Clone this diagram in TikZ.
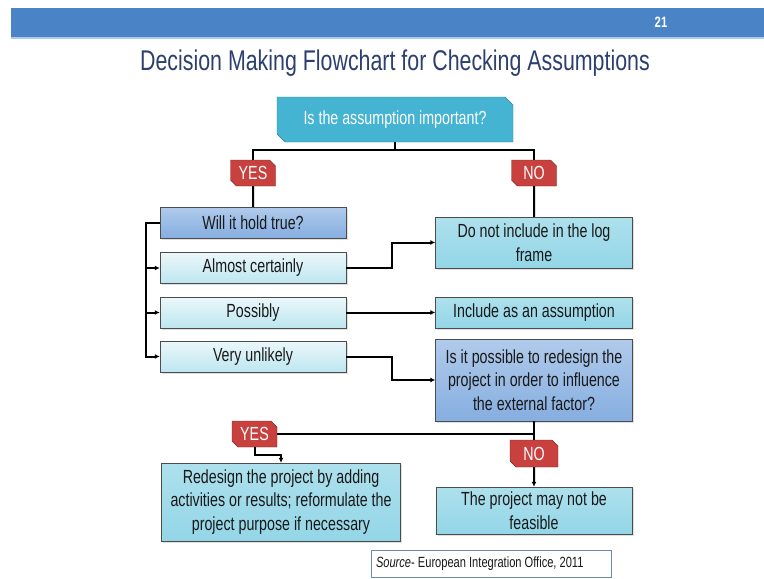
\documentclass[tikz,border=0pt]{standalone}
\usepackage{fontspec}
\setmainfont{Liberation Sans}[FakeStretch=0.75]
\usepackage{xcolor}
\usetikzlibrary{shapes.misc, arrows.meta, positioning, calc, shadows}
\definecolor{bannerblue}{HTML}{4A84C7}
\definecolor{titlenavy}{HTML}{2C3F6E}
\definecolor{tealtop}{HTML}{45B4D2}
\definecolor{labelred}{HTML}{C8413F}
\definecolor{skyblue}{HTML}{86AEE0}
\definecolor{paleblue}{HTML}{BDE6F0}
\definecolor{midcyan}{HTML}{93D6E7}

\begin{document}
\begin{tikzpicture}[
  x=1pt, y=-1pt,
  every node/.style={font=\fontsize{19}{23.5}\selectfont, text=black!90},
  question/.style={chamfered rectangle, chamfered rectangle corners={north east, south west}, chamfered rectangle xsep=4pt, chamfered rectangle ysep=4pt, draw=tealtop!70!black, fill=tealtop, text=white, inner sep=0pt},
  answer/.style={chamfered rectangle, chamfered rectangle corners={north east, south west}, chamfered rectangle xsep=3pt, chamfered rectangle ysep=3pt, draw=labelred!60!black, fill=labelred, text=white, inner sep=0pt, minimum width=45pt, minimum height=26pt},
  choice/.style={rectangle, draw=black!70, top color=paleblue!30, bottom color=paleblue, inner sep=0pt, minimum width=186pt, minimum height=31pt, drop shadow={shadow xshift=1.5pt, shadow yshift=-1.5pt, opacity=0.25}},
  query/.style={rectangle, draw=black!70, top color=skyblue!65, bottom color=skyblue, align=center, inner sep=0pt, drop shadow={shadow xshift=1.5pt, shadow yshift=-1.5pt, opacity=0.25}},
  outcome/.style={rectangle, draw=black!70, top color=midcyan!75, bottom color=midcyan, align=center, inner sep=0pt, minimum width=197pt, drop shadow={shadow xshift=1.5pt, shadow yshift=-1.5pt, opacity=0.25}},
  conn/.style={draw=black, line width=2pt},
  arrow/.style={conn, -{Latex[length=5pt, width=5pt]}}
]
  \useasboundingbox (0,0) rectangle (764,579);

  % Banner and title
  \fill[bannerblue] (11,8) rectangle (764,37);
  \fill[bannerblue!45] (11,37) rectangle (764,39);
  \node[font=\fontsize{15}{17}\selectfont\bfseries, text=white] (pagenum) at (661,22) {21};
  \node[font=\fontsize{28.5}{32}\selectfont, text=titlenavy] (title) at (395,63) {Decision Making Flowchart for Checking Assumptions};

  % Questions
  \node[question, minimum width=236pt, minimum height=45pt] (important) at (395,119.5) {Is the assumption important?};
  \node[query, minimum width=186pt, minimum height=31pt] (holdtrue) at (253,222.5) {Will it hold true?};
  \node[query, minimum width=197pt, minimum height=82pt] (redesignq) at (534,380) {Is it possible to redesign the\\project in order to influence\\the external factor?};

  % Yes / No labels
  \node[answer] (yes1) at (253,173) {YES};
  \node[answer] (no1) at (534,173) {NO};
  \node[answer] (yes2) at (254.5,434) {YES};
  \node[answer, minimum width=48pt, minimum height=27pt] (no2) at (534,453.5) {NO};

  % Choices
  \node[choice] (almost) at (253,268) {Almost certainly};
  \node[choice] (possibly) at (253,312.5) {Possibly};
  \node[choice] (unlikely) at (253,356.5) {Very unlikely};

  % Outcomes
  \node[outcome, minimum height=51pt] (notinclude) at (534,242.5) {Do not include in the log\\frame};
  \node[outcome, minimum height=31pt] (include) at (534,312.5) {Include as an assumption};
  \node[outcome, minimum width=239pt, minimum height=78pt] (redesign) at (281,502) {Redesign the project by adding\\activities or results; reformulate the\\project purpose if necessary};
  \node[outcome, minimum width=196pt, minimum height=47pt] (feasible) at (534,510.5) {The project may not be\\feasible};

  % Source
  \node[draw=skyblue!80!black, line width=0.8pt, fill=white, text width=230pt, align=flush left, minimum height=27pt, inner xsep=5pt, inner ysep=0pt, font=\fontsize{14.8}{17}\selectfont] (source) at (491,563.5) {\textit{Source}- European Integration Office, 2011};

  % Connectors
  \draw[conn] (important.south) -- ++(0,8) -| (yes1.north);
  \draw[conn] (important.south) -- ++(0,8) -| (no1.north);
  \draw[conn] (yes1) -- (holdtrue);
  \draw[conn] (no1) -- (notinclude);
  \draw[arrow] (holdtrue.west) -- ++(-14,0) |- (almost.west);
  \draw[arrow] (holdtrue.west) -- ++(-14,0) |- (possibly.west);
  \draw[arrow] (holdtrue.west) -- ++(-14,0) |- (unlikely.west);
  \draw[arrow] (almost.east) -- ++(46,0) |- (notinclude.west);
  \draw[arrow] (possibly) -- (include);
  \draw[arrow] (unlikely.east) -- ++(46,0) |- (redesignq.west);
  \draw[conn] (redesignq.south) -- (no2.north);
  \draw[conn] (redesignq.south |- yes2.east) -- (yes2.east);
  \draw[arrow] (yes2.south) -- ++(0,8) -| (redesign.north);
  \draw[arrow] (no2) -- (feasible);
\end{tikzpicture}
\end{document}
